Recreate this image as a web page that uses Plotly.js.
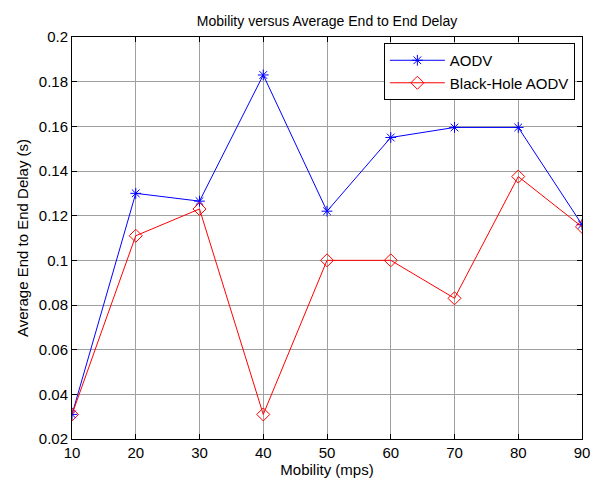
<!DOCTYPE html>
<html>
<head>
<meta charset="utf-8">
<script src="https://cdn.plot.ly/plotly-3.0.1.min.js"></script>
<style>html,body{margin:0;padding:0;background:#fff;}#chart{width:601px;height:482px;}</style>
</head>
<body>
<div id="chart"></div>
<script>
const mobility = [10, 20, 30, 40, 50, 60, 70, 80, 90];
const aodv = [0.031, 0.130, 0.1265, 0.183, 0.122, 0.155, 0.1595, 0.1595, 0.116];
const blackHole = [0.031, 0.111, 0.123, 0.031, 0.100, 0.100, 0.083, 0.1375, 0.115];
const yTickVals = [0.02, 0.04, 0.06, 0.08, 0.1, 0.12, 0.14, 0.16, 0.18, 0.2];
const yTickText = ['0.02', '0.04', '0.06', '0.08', '0.1', '0.12', '0.14', '0.16', '0.18', '0.2'];
const xTickVals = [10, 20, 30, 40, 50, 60, 70, 80, 90];

const font = 'Liberation Sans, Arial, sans-serif';
const traces = [
  {x: mobility, y: aodv, name: 'AODV', mode: 'lines+markers', type: 'scatter',
   line: {color: '#0000ff', width: 1},
   marker: {symbol: 'asterisk-open', size: 9, color: '#0000ff', line: {color: '#0000ff', width: 1}}},
  {x: mobility, y: blackHole, name: 'Black-Hole AODV', mode: 'lines+markers', type: 'scatter',
   line: {color: '#ff0000', width: 1},
   marker: {symbol: 'diamond-open', size: 10, color: '#ff0000', line: {color: '#ff0000', width: 1}}}
];
const axisCommon = {
  showline: true, linecolor: '#000', linewidth: 1, mirror: 'ticks',
  ticks: 'inside', ticklen: 5, tickcolor: '#000',
  showgrid: true, gridcolor: '#a0a0a0', gridwidth: 1, zeroline: false,
  tickfont: {family: font, size: 15, color: '#000'}
};
const layout = {
  width: 601, height: 482,
  margin: {l: 72, r: 19, t: 37, b: 43},
  paper_bgcolor: '#fff', plot_bgcolor: '#fff',
  title: {text: 'Mobility versus Average End to End Delay', font: {family: font, size: 14, color: '#000'},
          x: 0.5, xref: 'paper', xanchor: 'center', y: 1 - 21/482, yanchor: 'middle'},
  xaxis: Object.assign({}, axisCommon, {range: [10, 90], tickvals: xTickVals,
    title: {text: 'Mobility (mps)', font: {family: font, size: 15, color: '#000'}, standoff: 2}}),
  yaxis: Object.assign({}, axisCommon, {range: [0.02, 0.2], tickvals: yTickVals, ticktext: yTickText,
    title: {text: 'Average End to End Delay (s)', font: {family: font, size: 15, color: '#000'}, standoff: 6}}),
  legend: {x: 0.986, y: 0.985, xanchor: 'right', yanchor: 'top',
    bgcolor: '#fff', bordercolor: '#000', borderwidth: 1, itemwidth: 55,
    font: {family: font, size: 15, color: '#000'}, tracegroupgap: 0},
  showlegend: true
};
Plotly.newPlot('chart', traces, layout, {displayModeBar: false, staticPlot: true});
</script>
</body>
</html>
